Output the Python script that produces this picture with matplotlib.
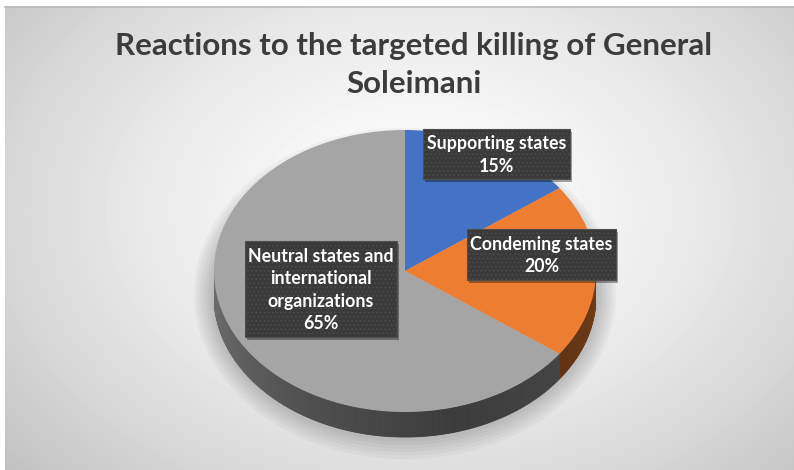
import numpy as np
import matplotlib.pyplot as plt
from matplotlib.patches import Rectangle, Ellipse

plt.rcParams['font.family'] = ['Lato', 'DejaVu Sans']
plt.rcParams['hatch.linewidth'] = 0.6

# data
categories = ['Supporting states', 'Condeming states',
              'Neutral states and\ninternational\norganizations']
shares = [15, 20, 65]
colors = ['#4472C4', '#ED7D31', '#A5A5A5']
title = 'Reactions to the targeted killing of General\nSoleimani'

W, H = 794, 470
fig = plt.figure(figsize=(W / 100, H / 100), dpi=100)
fig.patch.set_facecolor('white')

# background panel with a soft radial gradient
bg = fig.add_axes([0, 0, 1, 1])
bg.set_xlim(0, W)
bg.set_ylim(H, 0)
bg.axis('off')
yy, xx = np.mgrid[6:H, 5:W]
r = np.sqrt(((xx - 420) / 560) ** 2 + ((yy - 210) / 400) ** 2)
shade = 0.99 - 0.24 * np.clip(r, 0, 1.2) ** 1.6
bg.imshow(shade, cmap='gray', vmin=0, vmax=1, extent=[5, W, H, 6],
          aspect='auto', interpolation='bilinear')
bg.plot([5, W], [6.5, 6.5], color='#bcbcbc', lw=1.2)

# pie geometry (pixels)
cx, cy, rx, ry, depth = 405, 271, 191, 141, 25
top_pad, bot_pad = 8, 30
ax = fig.add_axes([(cx - rx) / W, (H - (cy + ry + depth + bot_pad)) / H,
                   2 * rx / W, (2 * ry + depth + bot_pad + top_pad) / H])
d = depth / ry

# soft shadow under the pie
for k in range(8):
    ax.add_patch(Ellipse((0, -d * 0.9), 2.0 + 0.03 * k, 2.0 + 0.05 * k,
                         color='k', alpha=0.03, lw=0, zorder=0, clip_on=False))


def side_factor(t):
    t = t % 360
    return np.interp(t, [180, 240, 285, 330, 360], [0.68, 0.48, 0.36, 0.42, 0.48])


# side walls
cum = np.concatenate([[0], np.cumsum(shares)]) / sum(shares)
for i, col in enumerate(colors):
    t_hi = 90 - 360 * cum[i]
    t_lo = 90 - 360 * cum[i + 1]
    base = np.array(plt.matplotlib.colors.to_rgb(col))
    ts = np.linspace(t_lo, t_hi, int(abs(t_hi - t_lo)) * 2 + 2)
    for a, b in zip(ts[:-1], ts[1:]):
        mid = np.radians((a + b) / 2)
        if np.sin(mid) > 0:
            continue
        ra, rb = np.radians(a), np.radians(b)
        xs = [np.cos(ra), np.cos(rb), np.cos(rb), np.cos(ra)]
        ys = [np.sin(ra), np.sin(rb), np.sin(rb) - d, np.sin(ra) - d]
        c = np.clip(base * side_factor((a + b) / 2), 0, 1)
        ax.fill(xs, ys, color=c, lw=0.6, ec=c, zorder=1)

# top face
ax.pie(shares, colors=colors, startangle=90, counterclock=False, radius=1,
       wedgeprops=dict(linewidth=0, zorder=2))
ax.set_aspect('auto')
ax.set_xlim(-1, 1)
ax.set_ylim(-1 - (depth + bot_pad) / ry, 1 + top_pad / ry)
ax.axis('off')

# overlay for labels and title
ov = fig.add_axes([0, 0, 1, 1])
ov.set_xlim(0, W)
ov.set_ylim(H, 0)
ov.axis('off')
ov.patch.set_alpha(0)

boxes = [(423, 129, 147, 50), (467, 229, 149, 51), (245, 241, 152, 96)]
for (bx, by, bw, bh), name, val in zip(boxes, categories, shares):
    ov.add_patch(Rectangle((bx + 2, by + 3), bw, bh, color='k', alpha=0.35, lw=0))
    ov.add_patch(Rectangle((bx, by), bw, bh, facecolor='#3a3a3a',
                           edgecolor='#4e4e4e', hatch='....', lw=0.8))
    ov.text(bx + bw / 2, by + bh / 2 + 1, f'{name}\n{val}%', color='white',
            fontsize=12.8, fontweight='bold', ha='center', va='center',
            linespacing=1.36)

ov.text(414, 65, title, ha='center', va='center', fontsize=22.5,
        fontweight='bold', color='#3c3c3c', linespacing=1.45)

fig.savefig('out.png', dpi=100)
